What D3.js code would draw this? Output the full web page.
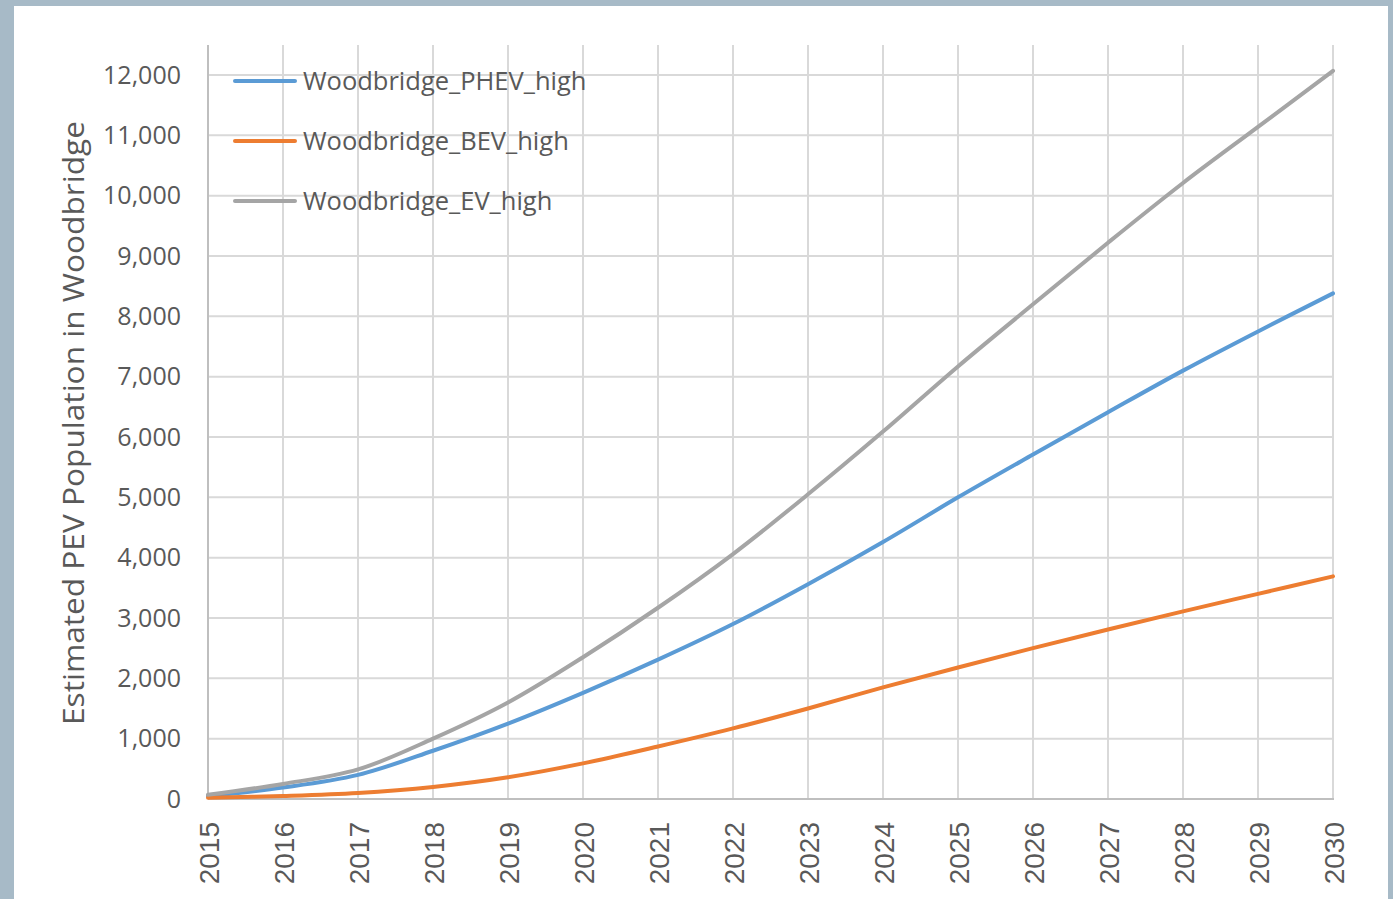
<!DOCTYPE html>
<html>
<head>
<meta charset="UTF-8">
<title>Estimated PEV Population in Woodbridge</title>
<script src="https://cdn.jsdelivr.net/npm/d3@7"></script>
<style>
  body { margin: 0; background: #a7bac7; }
  #chart { position: absolute; left: 14px; top: 6px; width: 1374px; height: 893px; background: #fff; }
  .grid line { stroke: #d9d9d9; stroke-width: 2; }
  .tick text { fill: #595959; }
  .series { fill: none; stroke-width: 4; stroke-linecap: round; }
</style>
</head>
<body>
<div id="chart"></div>
<script>
  var years = [2015, 2016, 2017, 2018, 2019, 2020, 2021, 2022, 2023, 2024, 2025, 2026, 2027, 2028, 2029, 2030];
  var phevHigh = [50, 190, 400, 800, 1250, 1760, 2310, 2900, 3560, 4260, 5000, 5710, 6410, 7100, 7750, 8380];
  var bevHigh = [20, 50, 100, 200, 360, 590, 870, 1170, 1500, 1850, 2180, 2500, 2810, 3110, 3400, 3690];
  var evHigh = [70, 250, 490, 1000, 1600, 2350, 3170, 4060, 5050, 6090, 7170, 8200, 9220, 10210, 11140, 12070];
  var yTicks = [0, 1000, 2000, 3000, 4000, 5000, 6000, 7000, 8000, 9000, 10000, 11000, 12000];

  var series = [
    {name: "Woodbridge_PHEV_high", values: phevHigh, color: "#5b9bd5"},
    {name: "Woodbridge_BEV_high", values: bevHigh, color: "#ed7d31"},
    {name: "Woodbridge_EV_high", values: evHigh, color: "#a5a5a5"}
  ];

  // the white panel starts at (14,6) on the page
  var offX = 14, offY = 6;
  var W = 1374, H = 893;
  var mLeft = 208 - offX, mRight = 1333 - offX, mTop = 75 - offY, mBottom = 799 - offY;

  var svg = d3.select("#chart").append("svg")
    .attr("width", W)
    .attr("height", H);

  var x = d3.scaleLinear().domain([2015, 2030]).range([mLeft, mRight]);
  var y = d3.scaleLinear().domain([0, 12000]).range([mBottom, mTop]);

  // grid
  var grid = svg.append("g").attr("class", "grid");
  grid.selectAll(".h").data(yTicks.slice(1)).enter().append("line")
    .attr("x1", mLeft).attr("x2", mRight)
    .attr("y1", function(d) { return y(d); })
    .attr("y2", function(d) { return y(d); });
  grid.selectAll(".v").data(years.slice(1)).enter().append("line")
    .attr("x1", function(d) { return x(d); })
    .attr("x2", function(d) { return x(d); })
    .attr("y1", mBottom).attr("y2", mTop - 30);

  // axes lines
  svg.append("line")
    .attr("x1", mLeft).attr("x2", mLeft)
    .attr("y1", mBottom).attr("y2", mTop - 30)
    .attr("stroke", "#bfbfbf").attr("stroke-width", 2);
  svg.append("line")
    .attr("x1", mLeft).attr("x2", mRight + 1)
    .attr("y1", mBottom).attr("y2", mBottom)
    .attr("stroke", "#bfbfbf").attr("stroke-width", 2);

  // y axis
  var yAxis = svg.append("g")
    .attr("transform", "translate(" + mLeft + ",0)")
    .call(d3.axisLeft(y).tickValues(yTicks).tickSize(0).tickPadding(27).tickFormat(d3.format(",")));
  yAxis.select(".domain").remove();
  yAxis.selectAll("text")
    .style("font-family", "'Open Sans', sans-serif")
    .style("font-size", "25px");

  // x axis
  var xAxis = svg.append("g")
    .attr("transform", "translate(0," + mBottom + ")")
    .call(d3.axisBottom(x).tickValues(years).tickSize(0).tickFormat(d3.format("d")));
  xAxis.select(".domain").remove();
  xAxis.selectAll("text")
    .style("font-family", "'Liberation Sans', Arial, sans-serif")
    .style("font-size", "28px")
    .attr("text-anchor", "end")
    .attr("dy", "0.36em")
    .attr("x", 0)
    .attr("y", 0)
    .attr("transform", "translate(0,23) rotate(-90)");

  // y title
  svg.append("text")
    .attr("transform", "translate(" + (84 - offX) + "," + (423 - offY) + ") rotate(-90)")
    .attr("text-anchor", "middle")
    .attr("textLength", 604)
    .attr("lengthAdjust", "spacingAndGlyphs")
    .style("font-family", "'Open Sans', sans-serif")
    .style("font-size", "29px")
    .style("fill", "#595959")
    .text("Estimated PEV Population in Woodbridge");

  // lines
  var line = d3.line()
    .x(function(d, i) { return x(years[i]); })
    .y(function(d) { return y(d); })
    .curve(d3.curveCatmullRom.alpha(0.5));

  svg.selectAll(".series").data(series).enter().append("path")
    .attr("class", "series")
    .attr("stroke", function(d) { return d.color; })
    .attr("d", function(d) { return line(d.values); });

  // legend
  var legend = svg.append("g").selectAll("g").data(series).enter().append("g")
    .attr("transform", function(d, i) { return "translate(" + (235 - offX) + "," + (81 - offY + i * 60) + ")"; });
  legend.append("line")
    .attr("x1", 0).attr("x2", 60)
    .attr("stroke", function(d) { return d.color; })
    .attr("stroke-width", 4)
    .attr("stroke-linecap", "round");
  legend.append("text")
    .attr("x", 68)
    .attr("dy", "0.35em")
    .style("font-family", "'Open Sans', sans-serif")
    .style("font-size", "25.5px")
    .style("fill", "#595959")
    .text(function(d) { return d.name; });
</script>
</body>
</html>
